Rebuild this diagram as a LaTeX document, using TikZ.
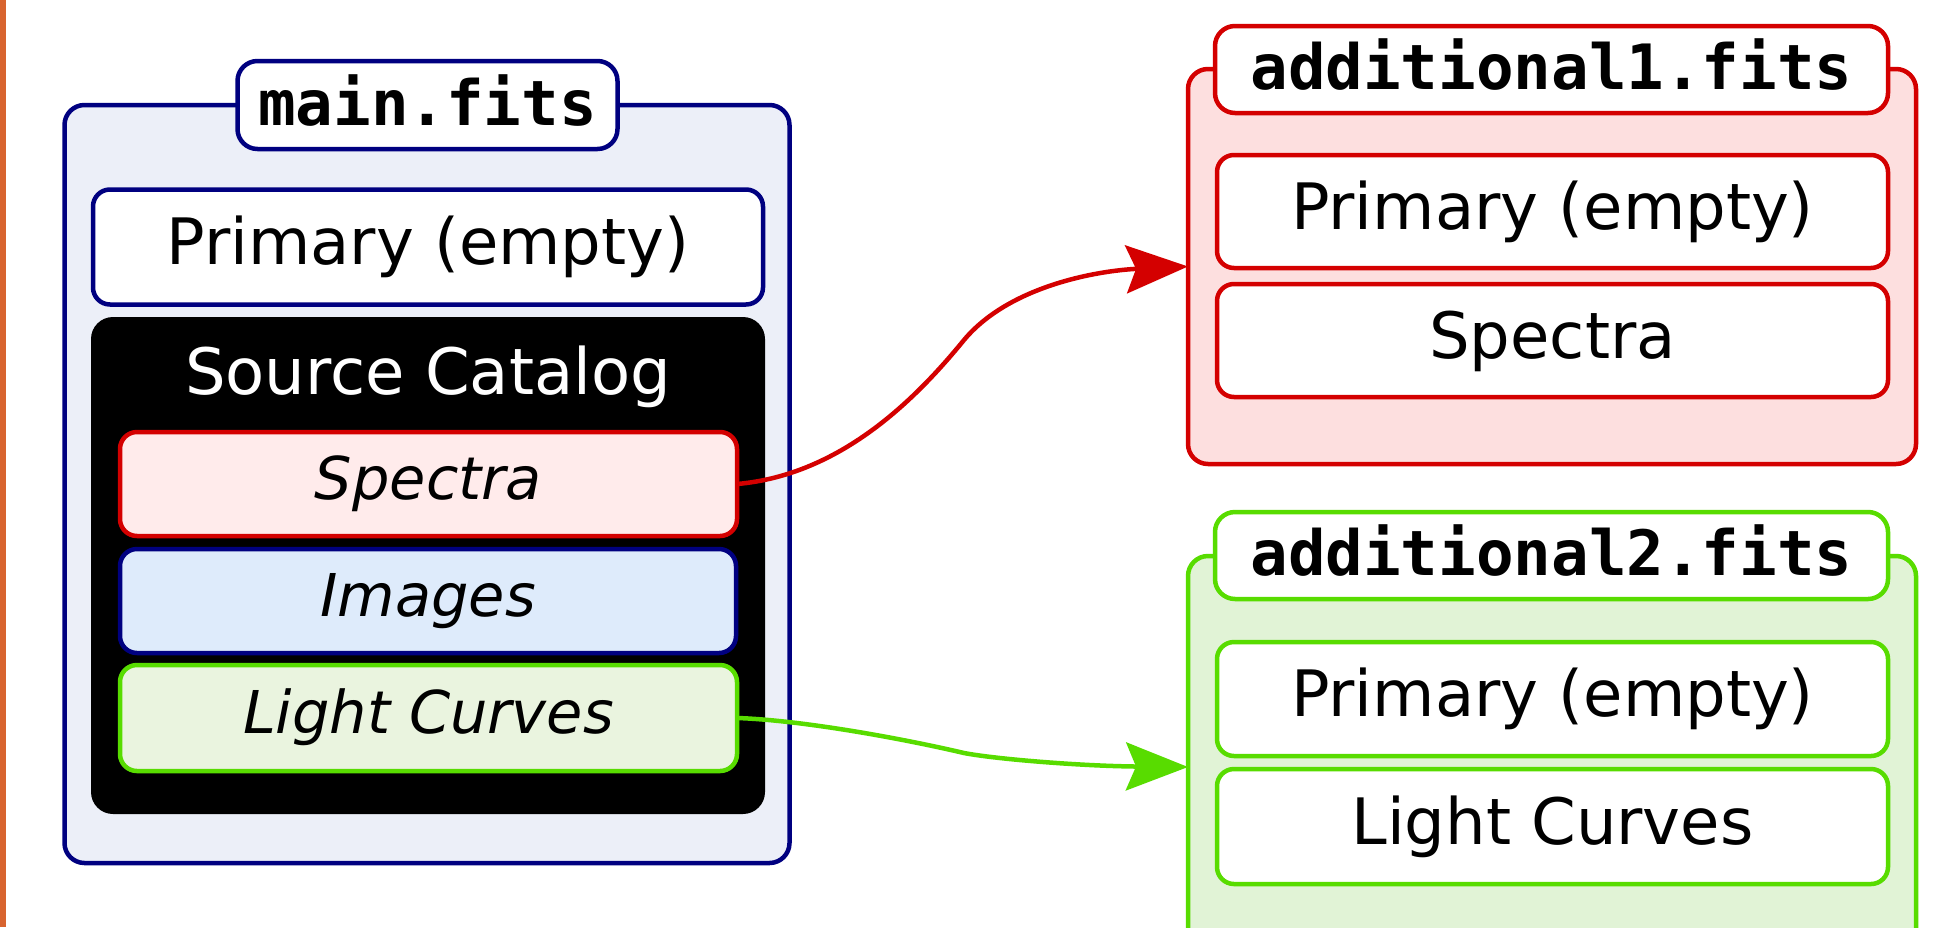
\documentclass[tikz,border=0pt]{standalone}
\usepackage{fontspec}
\setmainfont{DejaVu Sans}
\newfontfamily\titlefont{DejaVu Sans Mono}
\usetikzlibrary{arrows.meta}
\definecolor{navy}{RGB}{0,0,128}
\definecolor{mainbg}{RGB}{236,239,248}
\definecolor{fred}{RGB}{212,0,0}
\definecolor{pinklight}{RGB}{255,235,235}
\definecolor{pinkbg}{RGB}{253,223,223}
\definecolor{bluelight}{RGB}{222,235,251}
\definecolor{fgreen}{RGB}{88,220,0}
\definecolor{greenlight}{RGB}{234,244,223}
\definecolor{greenbg}{RGB}{225,243,214}
\definecolor{orangebar}{RGB}{216,100,47}
\begin{document}
\begin{tikzpicture}[x=1pt,y=-1pt,
  base/.style={rectangle, line width=4.5pt, inner sep=0pt, outer sep=0pt,
    font=\fontsize{64}{72}\selectfont, text height=47pt, text depth=12pt},
  filebox/.style={base, rounded corners=20pt},
  hdu/.style={base, rounded corners=17pt},
  hduit/.style={hdu, font=\fontsize{59}{68}\selectfont\itshape, text height=44pt, text depth=13pt},
  titlebox/.style={base, rounded corners=20pt, fill=white,
    font=\titlefont\bfseries\fontsize{62.5}{72}\selectfont, text height=50pt, text depth=10pt},
  link/.style={line width=4.5pt, -{Stealth[length=62pt,width=48pt,inset=10pt]}}
]
\useasboundingbox (0,0) rectangle (1945,927);
\fill[white] (0,0) rectangle (1945,927);
\fill[orangebar] (0,0) rectangle (6,927);

% main.fits
\node[filebox, draw=navy, fill=mainbg, minimum width=725pt, minimum height=758pt] (main) at (427,484) {};
\node[titlebox, draw=navy, minimum width=380pt, minimum height=88pt] (maintitle) at (427.5,105) {main.fits};
\node[hdu, draw=navy, fill=white, minimum width=670pt, minimum height=115pt] (mainprim) at (428,247) {Primary (empty)};
\node[base, fill=black, rounded corners=22pt, minimum width=674pt, minimum height=497pt] (cat) at (428,565.5) {};
\node[font=\fontsize{64}{72}\selectfont, text=white, inner sep=0pt, anchor=base] (cattitle) at (428,394) {Source Catalog};
\node[hduit, draw=fred, fill=pinklight, minimum width=617pt, minimum height=104pt] (spec) at (428.5,484) {Spectra};
\node[hduit, draw=navy, fill=bluelight, minimum width=616pt, minimum height=104pt] (img) at (428,601) {Images};
\node[hduit, draw=fgreen, fill=greenlight, minimum width=617pt, minimum height=106pt] (lc) at (428.5,718) {Light Curves};

% additional1.fits
\node[filebox, draw=fred, fill=pinkbg, minimum width=728pt, minimum height=395pt] (add1) at (1552,266.5) {};
\node[titlebox, draw=fred, minimum width=673pt, minimum height=87pt] (add1title) at (1551.5,69.5) {additional1.fits};
\node[hdu, draw=fred, fill=white, minimum width=671pt, minimum height=113pt] (add1prim) at (1552.5,211.5) {Primary (empty)};
\node[hdu, draw=fred, fill=white, minimum width=671pt, minimum height=113pt] (add1spec) at (1552.5,340.5) {Spectra};

% additional2.fits
\node[filebox, draw=fgreen, fill=greenbg, minimum width=728pt, minimum height=422pt] (add2) at (1552,767) {};
\node[titlebox, draw=fgreen, minimum width=673pt, minimum height=87pt] (add2title) at (1551.5,555.5) {additional2.fits};
\node[hdu, draw=fgreen, fill=white, minimum width=671pt, minimum height=114pt] (add2prim) at (1552.5,699) {Primary (empty)};
\node[hdu, draw=fgreen, fill=white, minimum width=671pt, minimum height=115pt] (add2lc) at (1552.5,826.5) {Light Curves};

% connectors
\coordinate (rmid) at (964,340);
\coordinate (gmid) at (964,753);
\draw[link, draw=fred] (spec.east) .. controls +(103,-9) and +(-49,60) .. (rmid)
  .. controls +(46,-55) and +(-88,4) .. (add1.west);
\draw[link, draw=fgreen] (lc.east) .. controls +(63,2) and +(-64,-15) .. (gmid)
  .. controls +(31,6) and +(-108,-1) .. (add2.west);
\end{tikzpicture}
\end{document}
